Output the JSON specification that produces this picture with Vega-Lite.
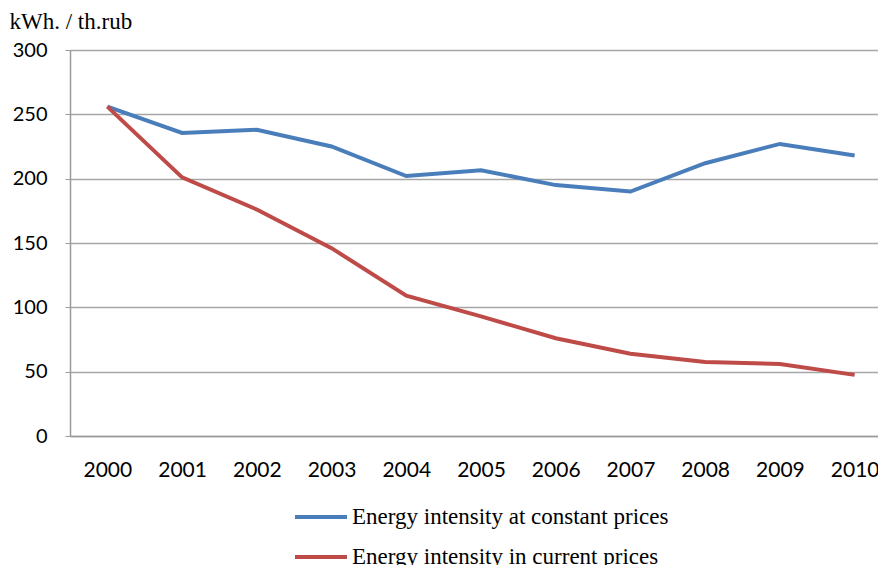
{
  "$schema": "https://vega.github.io/schema/vega-lite/v6.json",
  "autosize": {"type": "none"},
  "padding": {"left": 70, "top": 50, "right": 0, "bottom": 129},
  "width": 822,
  "height": 386,
  "background": "white",
  "config": {"view": {"stroke": null}},
  "data": {"values": [
    {"year": "2000", "series": "Energy intensity at constant prices", "value": 256},
    {"year": "2001", "series": "Energy intensity at constant prices", "value": 235.5},
    {"year": "2002", "series": "Energy intensity at constant prices", "value": 238},
    {"year": "2003", "series": "Energy intensity at constant prices", "value": 225},
    {"year": "2004", "series": "Energy intensity at constant prices", "value": 202},
    {"year": "2005", "series": "Energy intensity at constant prices", "value": 206.5},
    {"year": "2006", "series": "Energy intensity at constant prices", "value": 195},
    {"year": "2007", "series": "Energy intensity at constant prices", "value": 190},
    {"year": "2008", "series": "Energy intensity at constant prices", "value": 212},
    {"year": "2009", "series": "Energy intensity at constant prices", "value": 227},
    {"year": "2010", "series": "Energy intensity at constant prices", "value": 218},
    {"year": "2000", "series": "Energy intensity in current prices", "value": 256},
    {"year": "2001", "series": "Energy intensity in current prices", "value": 201},
    {"year": "2002", "series": "Energy intensity in current prices", "value": 176},
    {"year": "2003", "series": "Energy intensity in current prices", "value": 146},
    {"year": "2004", "series": "Energy intensity in current prices", "value": 109},
    {"year": "2005", "series": "Energy intensity in current prices", "value": 93},
    {"year": "2006", "series": "Energy intensity in current prices", "value": 76},
    {"year": "2007", "series": "Energy intensity in current prices", "value": 64},
    {"year": "2008", "series": "Energy intensity in current prices", "value": 57.5},
    {"year": "2009", "series": "Energy intensity in current prices", "value": 56},
    {"year": "2010", "series": "Energy intensity in current prices", "value": 47.5}
  ]},
  "mark": {"type": "line", "strokeWidth": 4},
  "encoding": {
    "x": {
      "field": "year", "type": "ordinal",
      "scale": {"type": "point", "padding": 0.5},
      "axis": {
        "title": null, "labelAngle": 0, "labelFont": "Lato", "labelFontSize": 21,
        "labelColor": "#000", "domainColor": "#9a9a9a", "domainWidth": 1.5,
        "ticks": false, "labelPadding": 23, "grid": false
      }
    },
    "y": {
      "field": "value", "type": "quantitative",
      "scale": {"domain": [0, 300], "nice": false},
      "axis": {
        "values": [0, 50, 100, 150, 200, 250, 300],
        "title": "kWh. / th.rub", "titleAngle": 0, "titleAlign": "left",
        "titleBaseline": "alphabetic",
        "titleX": -61, "titleY": -22, "titleFont": "Liberation Serif",
        "titleFontSize": 23, "titleFontWeight": "normal", "titleColor": "#000",
        "labelFont": "Lato", "labelFontSize": 20, "labelColor": "#000",
        "labelPadding": 18, "tickSize": 5, "tickColor": "#9a9a9a",
        "domainColor": "#9a9a9a", "domainWidth": 1.5,
        "gridColor": "#a6a6a6", "gridWidth": 1.5
      }
    },
    "color": {
      "field": "series", "type": "nominal",
      "scale": {"domain": ["Energy intensity at constant prices", "Energy intensity in current prices"], "range": ["#4a7ebb", "#be4b48"]},
      "legend": {
        "title": null, "orient": "none", "legendX": 223, "legendY": 439,
        "direction": "vertical", "symbolType": "stroke", "symbolStrokeWidth": 4,
        "symbolSize": 2704, "labelFont": "Liberation Serif", "labelFontSize": 23,
        "labelColor": "#000", "labelOffset": 3, "rowPadding": -19, "labelLimit": 500
      }
    }
  }
}
